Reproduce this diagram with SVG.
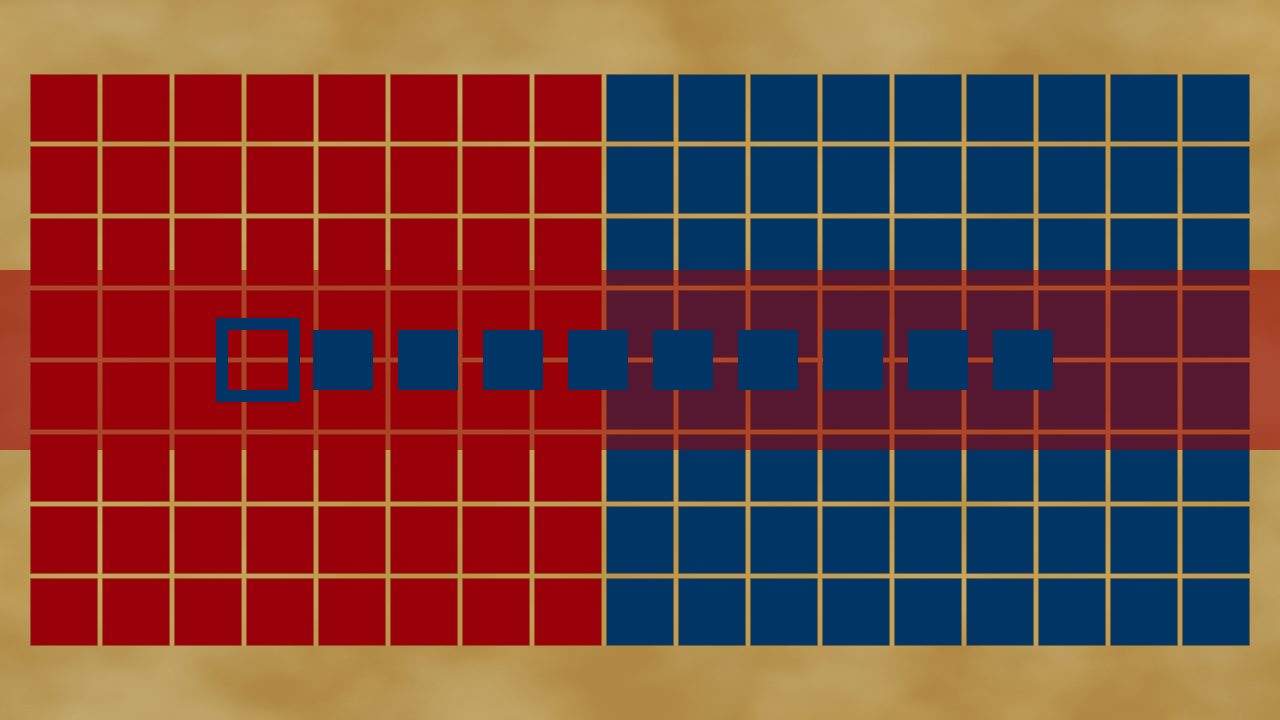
<svg xmlns="http://www.w3.org/2000/svg" width="1280" height="720" viewBox="0 0 1280 720">
  <defs>
    <filter id="cloudDark" x="0" y="0" width="100%" height="100%" filterUnits="userSpaceOnUse">
      <feTurbulence type="fractalNoise" baseFrequency="0.004 0.006" numOctaves="4" seed="7" result="n"/>
      <feColorMatrix in="n" type="matrix" values="0 0 0 0 0.55  0 0 0 0 0.42  0 0 0 0 0.18  2.6 0 0 0 -1.05"/>
    </filter>
    <filter id="cloudLight" x="0" y="0" width="100%" height="100%" filterUnits="userSpaceOnUse">
      <feTurbulence type="fractalNoise" baseFrequency="0.005 0.008" numOctaves="4" seed="21" result="n"/>
      <feColorMatrix in="n" type="matrix" values="0 0 0 0 0.80  0 0 0 0 0.62  0 0 0 0 0.28  1.6 0 0 0 -0.7"/>
    </filter>
    <pattern id="redCells" x="30" y="74" width="72" height="72" patternUnits="userSpaceOnUse">
      <rect class="cell red" x="0.5" y="0.5" width="67" height="67"/>
    </pattern>
    <pattern id="blueCells" x="30" y="74" width="72" height="72" patternUnits="userSpaceOnUse">
      <rect class="cell blue" x="0.5" y="0.5" width="67" height="67"/>
    </pattern>
    <style>
      .cell { stroke: #7a5a28; stroke-opacity: 0.55; stroke-width: 1; }
      .red { fill: #99000a; }
      .blue { fill: #003566; }
      .token { fill: #003566; }
      .marker { fill: none; stroke: #003566; stroke-width: 12; }
      .band { fill: #990006; fill-opacity: 0.56; }
    </style>
  </defs>

  <g id="background">
    <rect x="0" y="0" width="1280" height="720" fill="#b08a44"/>
    <rect x="0" y="0" width="1280" height="720" filter="url(#cloudLight)" opacity="0.55"/>
    <rect x="0" y="0" width="1280" height="720" filter="url(#cloudDark)" opacity="0.9"/>
    <rect x="30" y="74" width="1220" height="572" fill="#d2a650" opacity="0.4"/>
  </g>

  <g id="red-field">
    <rect x="30" y="74" width="572" height="572" fill="url(#redCells)"/>
  </g>
  <g id="blue-field">
    <rect x="606" y="74" width="644" height="572" fill="url(#blueCells)"/>
  </g>

  <g id="band">
    <rect class="band" x="0" y="270" width="1280" height="180"/>
  </g>

  <g id="marker">
    <rect class="marker" x="222" y="324" width="72" height="72"/>
  </g>
  <g id="tokens">
    <rect class="token" x="313" y="330" width="60" height="60"/>
    <rect class="token" x="398" y="330" width="60" height="60"/>
    <rect class="token" x="483" y="330" width="60" height="60"/>
    <rect class="token" x="568" y="330" width="60" height="60"/>
    <rect class="token" x="653" y="330" width="60" height="60"/>
    <rect class="token" x="738" y="330" width="60" height="60"/>
    <rect class="token" x="823" y="330" width="60" height="60"/>
    <rect class="token" x="908" y="330" width="60" height="60"/>
    <rect class="token" x="993" y="330" width="60" height="60"/>
  </g>
</svg>
